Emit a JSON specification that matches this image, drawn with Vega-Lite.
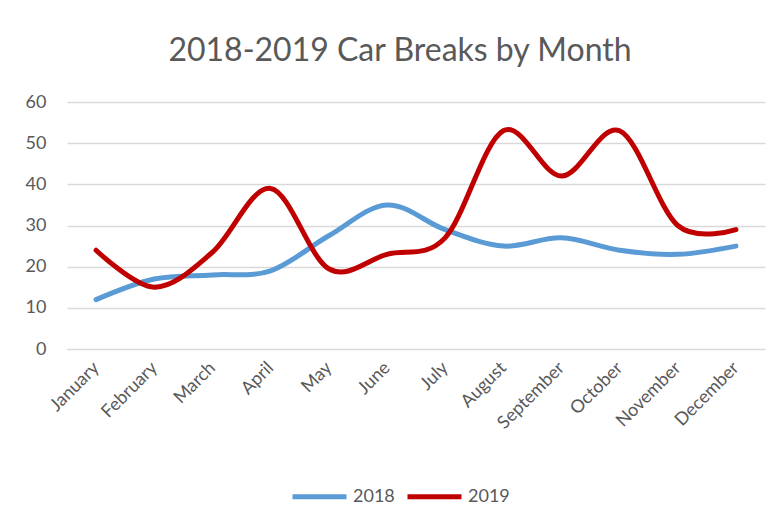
{
  "$schema": "https://vega.github.io/schema/vega-lite/v6.json",
  "autosize": {"type": "none"},
  "width": 698,
  "height": 247,
  "padding": {"left": 67, "top": 102, "right": 16, "bottom": 178},
  "background": "white",
  "title": {
    "text": "2018-2019 Car Breaks by Month",
    "font": "Lato",
    "fontSize": 32,
    "fontWeight": "normal",
    "color": "#595959",
    "anchor": "middle",
    "dx": -16,
    "offset": 25
  },
  "data": {
    "values": [
      {"month": "January", "year": "2018", "value": 12},
      {"month": "February", "year": "2018", "value": 17},
      {"month": "March", "year": "2018", "value": 18},
      {"month": "April", "year": "2018", "value": 19},
      {"month": "May", "year": "2018", "value": 27.5},
      {"month": "June", "year": "2018", "value": 35},
      {"month": "July", "year": "2018", "value": 29},
      {"month": "August", "year": "2018", "value": 25},
      {"month": "September", "year": "2018", "value": 27},
      {"month": "October", "year": "2018", "value": 24},
      {"month": "November", "year": "2018", "value": 23},
      {"month": "December", "year": "2018", "value": 25},
      {"month": "January", "year": "2019", "value": 24},
      {"month": "February", "year": "2019", "value": 15},
      {"month": "March", "year": "2019", "value": 23.5},
      {"month": "April", "year": "2019", "value": 39},
      {"month": "May", "year": "2019", "value": 19.5},
      {"month": "June", "year": "2019", "value": 23},
      {"month": "July", "year": "2019", "value": 27},
      {"month": "August", "year": "2019", "value": 53},
      {"month": "September", "year": "2019", "value": 42},
      {"month": "October", "year": "2019", "value": 53},
      {"month": "November", "year": "2019", "value": 30},
      {"month": "December", "year": "2019", "value": 29}
    ]
  },
  "mark": {"type": "line", "interpolate": "cardinal", "strokeWidth": 5, "strokeCap": "round", "strokeJoin": "round"},
  "encoding": {
    "x": {
      "field": "month",
      "type": "ordinal",
      "sort": null,
      "scale": {"type": "point", "padding": 0.5},
      "axis": {
        "title": null,
        "labelAngle": -45,
        "labelAlign": "right",
        "labelBaseline": "middle",
        "labelFont": "Lato",
        "labelFontSize": 18,
        "labelColor": "#595959",
        "labelPadding": 16,
        "labelOverlap": false,
        "ticks": false,
        "domain": true,
        "domainColor": "#d9d9d9",
        "grid": false
      }
    },
    "y": {
      "field": "value",
      "type": "quantitative",
      "scale": {"domain": [0, 60], "nice": false},
      "axis": {
        "title": null,
        "values": [0, 10, 20, 30, 40, 50, 60],
        "labelFont": "Lato",
        "labelFontSize": 18,
        "labelColor": "#595959",
        "labelPadding": 21,
        "ticks": false,
        "domain": false,
        "grid": true,
        "gridColor": "#d9d9d9",
        "gridWidth": 1.5
      }
    },
    "color": {
      "field": "year",
      "type": "nominal",
      "scale": {"domain": ["2018", "2019"], "range": ["#5B9BD5", "#C00000"]},
      "legend": {
        "title": null,
        "orient": "none",
        "legendX": 223,
        "legendY": 365,
        "direction": "horizontal",
        "symbolType": "stroke",
        "symbolStrokeWidth": 5,
        "symbolSize": 2916,
        "labelFont": "Lato",
        "labelFontSize": 18,
        "labelColor": "#595959",
        "columnPadding": 2,
        "labelOffset": 4
      }
    }
  },
  "config": {"view": {"stroke": null}}
}
